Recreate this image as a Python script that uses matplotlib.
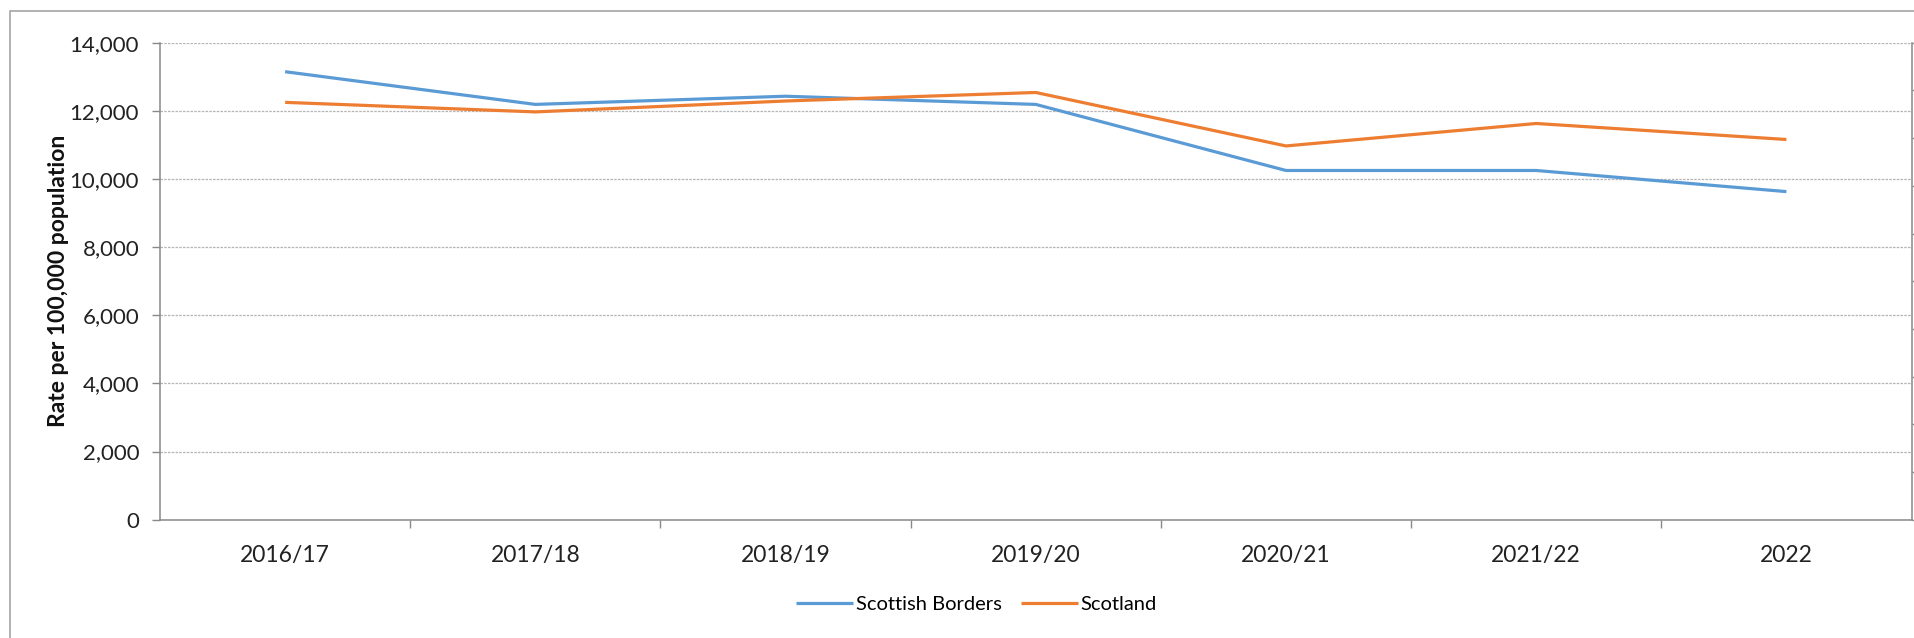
import matplotlib.pyplot as plt
from matplotlib.patches import Rectangle
from matplotlib.ticker import FuncFormatter, FixedLocator

plt.rcParams['font.family'] = ['Lato', 'DejaVu Sans']

years = ["2016/17", "2017/18", "2018/19", "2019/20", "2020/21", "2021/22", "2022"]
borders = [13150, 12190, 12430, 12190, 10250, 10250, 9630]
scotland = [12250, 11970, 12290, 12540, 10970, 11630, 11160]

blue = "#5B9BD5"
orange = "#ED7D31"
axis_grey = "#898989"
grid_grey = "#b4b4b4"

fig = plt.figure(figsize=(19.14, 6.38), dpi=100)
ax = fig.add_axes([0.0836, 0.1855, 0.9151, 0.7475])

x = list(range(len(years)))
ax.plot(x, borders, color=blue, lw=2.3, label="Scottish Borders", solid_capstyle="butt")
ax.plot(x, scotland, color=orange, lw=2.3, label="Scotland", solid_capstyle="butt")

ax.set_xlim(-0.5, len(years) - 0.5)
ax.set_ylim(0, 14000)
ax.set_yticks(range(0, 14001, 2000))
ax.yaxis.set_major_formatter(FuncFormatter(lambda v, p: f"{int(v):,}"))
ax.grid(axis="y", color=grid_grey, lw=0.9, linestyle=(0, (2, 1)))
ax.set_axisbelow(True)

# category labels centred, ticks on the boundaries
ax.set_xticks(x)
ax.set_xticklabels(years, fontsize=16.5, color="#222222")
ax.tick_params(axis="x", which="major", length=0, pad=18)
ax.xaxis.set_minor_locator(FixedLocator([i - 0.5 for i in range(1, len(years))]))
ax.tick_params(axis="x", which="minor", length=6, width=1, color=axis_grey, direction="out")
ax.tick_params(axis="y", length=6, width=1, color=axis_grey, labelsize=16,
               labelcolor="#222222", pad=9)

for side in ["left", "bottom"]:
    ax.spines[side].set_color(axis_grey)
    ax.spines[side].set_linewidth(1.1)
ax.spines["top"].set_visible(False)
ax.spines["right"].set_visible(False)

ax.set_ylabel("Rate per 100,000 population", fontsize=16.5, fontweight="bold",
              color="#111111")
ax.yaxis.set_label_coords(-0.052, 0.5)

# empty secondary axis on the right
ax2 = ax.twinx()
ax2.set_ylim(0, 1)
ax2.set_yticks([i / 10 for i in range(11)])
ax2.set_yticklabels([])
ax2.tick_params(axis="y", length=6, width=1, color=axis_grey, direction="out")
for side in ["left", "bottom", "top"]:
    ax2.spines[side].set_visible(False)
ax2.spines["right"].set_color(axis_grey)
ax2.spines["right"].set_linewidth(1.1)

fig.legend(loc="center", bbox_to_anchor=(0.51, 0.053), ncol=2, frameon=False,
           fontsize=14.5, handlelength=2.85, handletextpad=0.1, columnspacing=0.95)

# chart border
fig.patches.append(Rectangle((0.0052, -0.05), 1.2, 1.033, transform=fig.transFigure,
                             fill=False, edgecolor="#a6a6a6", lw=1.2))

fig.savefig("out.png", dpi=100)
